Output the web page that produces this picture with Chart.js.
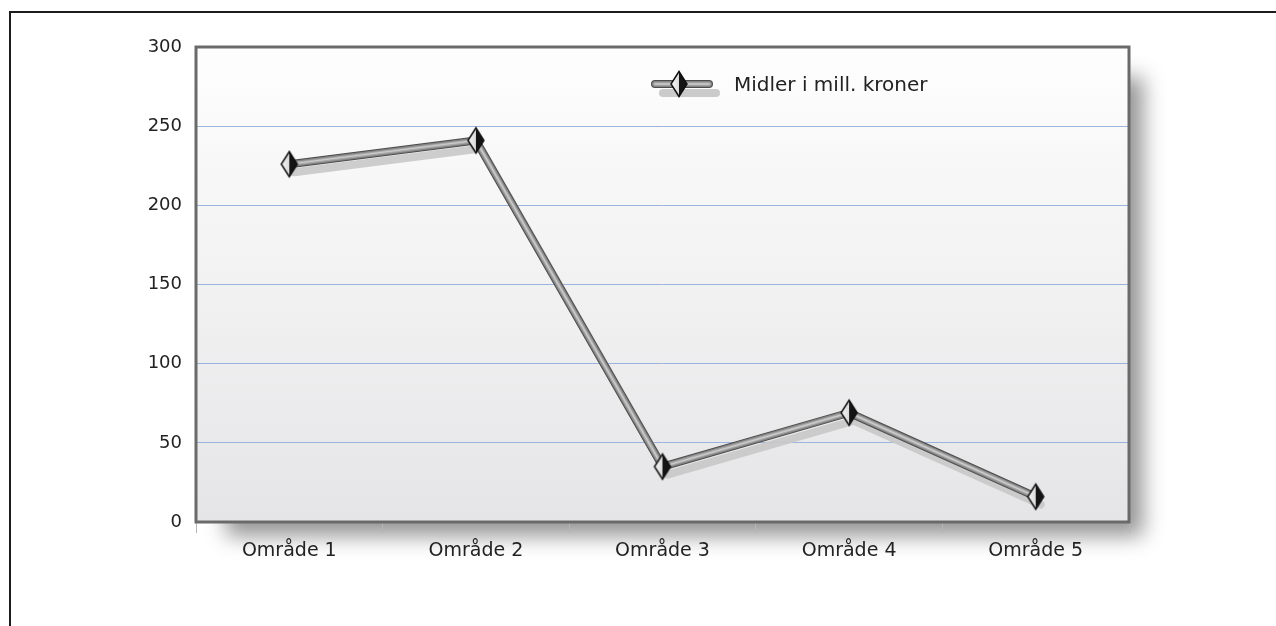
<!DOCTYPE html>
<html>
<head>
<meta charset="utf-8">
<script src="https://cdn.jsdelivr.net/npm/chart.js@4/dist/chart.umd.min.js"></script>
<style>
  html, body { margin: 0; padding: 0; background: #ffffff; }
  #wrap { width: 1276px; height: 626px; position: relative; }
</style>
</head>
<body>
<div id="wrap"><canvas id="chart" width="1276" height="626"></canvas></div>
<script>
// Fund allocation per area (million kroner)
const categories = ['Område 1', 'Område 2', 'Område 3', 'Område 4', 'Område 5'];
const seriesLabel = 'Midler i mill. kroner';
const seriesValues = [226, 241, 35, 69, 16];
const yTicks = [0, 50, 100, 150, 200, 250, 300];

const FONT = '"DejaVu Sans", Verdana, sans-serif';

// Diamond marker: light left half, black right half
function makeDiamond() {
  const c = document.createElement('canvas');
  c.width = 20; c.height = 30;
  const g = c.getContext('2d');
  const cx = 10, cy = 15, hw = 8, hh = 12.5;
  g.beginPath();
  g.moveTo(cx, cy - hh); g.lineTo(cx - hw, cy); g.lineTo(cx, cy + hh); g.closePath();
  const lg = g.createLinearGradient(cx - hw, 0, cx, 0);
  lg.addColorStop(0, '#f8f8f8'); lg.addColorStop(1, '#dadada');
  g.fillStyle = lg; g.fill();
  g.beginPath();
  g.moveTo(cx, cy - hh); g.lineTo(cx + hw, cy); g.lineTo(cx, cy + hh); g.closePath();
  g.fillStyle = '#141414'; g.fill();
  g.beginPath();
  g.moveTo(cx, cy - hh); g.lineTo(cx + hw, cy); g.lineTo(cx, cy + hh); g.lineTo(cx - hw, cy); g.closePath();
  g.lineWidth = 1.5; g.strokeStyle = '#111'; g.lineJoin = 'miter'; g.stroke();
  return c;
}
const diamond = makeDiamond();

// Tube stroke used for the series line and its legend swatch
function strokeTube(ctx, pts) {
  const layers = [['#4c4c4c', 8], ['#858585', 6], ['#a8a8a8', 3.6], ['#cacaca', 1.4]];
  ctx.lineCap = 'round'; ctx.lineJoin = 'round';
  layers.forEach(([col, w]) => {
    ctx.strokeStyle = col; ctx.lineWidth = w;
    ctx.beginPath();
    pts.forEach((p, i) => i ? ctx.lineTo(p.x, p.y) : ctx.moveTo(p.x, p.y));
    ctx.stroke();
  });
}

// Frame, plot background, plot shadow, line shadow, tube line and legend
const decor = {
  id: 'decor',
  beforeDraw(chart) {
    const ctx = chart.ctx, a = chart.chartArea;
    ctx.save();
    ctx.fillStyle = '#ffffff';
    ctx.fillRect(0, 0, chart.width, chart.height);
    // outer frame
    ctx.strokeStyle = '#1c1c1c'; ctx.lineWidth = 2;
    ctx.beginPath();
    ctx.moveTo(10, chart.height); ctx.lineTo(10, 12); ctx.lineTo(chart.width, 12);
    ctx.stroke();
    // soft drop shadow of plot area
    ctx.save();
    ctx.shadowColor = 'rgba(0,0,0,0.42)';
    ctx.shadowBlur = 20;
    ctx.shadowOffsetX = 16; ctx.shadowOffsetY = 16;
    ctx.fillStyle = '#ffffff';
    ctx.fillRect(a.left + 14, a.top + 14, a.right - a.left - 16, a.bottom - a.top - 16);
    ctx.restore();
    // plot background gradient
    const bg = ctx.createLinearGradient(0, a.top, 0, a.bottom);
    bg.addColorStop(0, '#fefefe'); bg.addColorStop(1, '#e5e5e7');
    ctx.fillStyle = bg;
    ctx.fillRect(a.left, a.top, a.right - a.left, a.bottom - a.top);
    ctx.restore();
  },
  beforeDatasetsDraw(chart) {
    const ctx = chart.ctx, a = chart.chartArea;
    ctx.save();
    ctx.strokeStyle = '#6a6a6a'; ctx.lineWidth = 3;
    ctx.strokeRect(a.left, a.top, a.right - a.left, a.bottom - a.top);
    // line shadow, offset down-right
    const pts = chart.getDatasetMeta(0).data;
    ctx.strokeStyle = 'rgba(200,200,200,0.9)';
    ctx.lineWidth = 8; ctx.lineCap = 'round'; ctx.lineJoin = 'round';
    ctx.beginPath();
    pts.forEach((p, i) => { const x = p.x + 5, y = p.y + 8; i ? ctx.lineTo(x, y) : ctx.moveTo(x, y); });
    ctx.stroke();
    // tube body along the dataset's points
    strokeTube(ctx, pts);
    ctx.restore();
  },
  afterDraw(chart) {
    const ctx = chart.ctx;
    ctx.save();
    // legend swatch: tube with shadow and diamond
    ctx.lineCap = 'round';
    ctx.strokeStyle = 'rgba(200,200,200,0.95)'; ctx.lineWidth = 8;
    ctx.beginPath(); ctx.moveTo(663, 93); ctx.lineTo(716, 93); ctx.stroke();
    strokeTube(ctx, [{ x: 655, y: 84 }, { x: 709, y: 84 }]);
    ctx.drawImage(diamond, 679 - 10, 84 - 15);
    ctx.fillStyle = '#222';
    ctx.font = '20px ' + FONT;
    ctx.textBaseline = 'middle';
    ctx.fillText(chart.data.datasets[0].label, 734, 86);
    ctx.restore();
  }
};

new Chart(document.getElementById('chart'), {
  type: 'line',
  data: {
    labels: categories,
    datasets: [
      { label: seriesLabel, data: seriesValues, showLine: false,
        pointStyle: diamond, pointRadius: 10 }
    ]
  },
  options: {
    responsive: false,
    animation: false,
    events: [],
    layout: { padding: { left: 0, top: 47, right: 147, bottom: 0 } },
    plugins: { legend: { display: false }, tooltip: { enabled: false } },
    scales: {
      x: {
        offset: true,
        afterFit(s) { s.height = 104; },
        grid: { offset: true, drawOnChartArea: false, drawTicks: true, tickLength: 11, color: '#b5b5b5', lineWidth: 1 },
        border: { display: false },
        ticks: { color: '#222', font: { family: FONT, size: 19 }, padding: 7, maxRotation: 0 }
      },
      y: {
        min: 0, max: 300,
        afterFit(s) { s.width = 196; },
        afterBuildTicks(s) { s.ticks = yTicks.map(v => ({ value: v })); },
        grid: {
          drawTicks: false,
          color: c => (c.tick && (c.tick.value === 0 || c.tick.value === 300)) ? 'rgba(0,0,0,0)' : '#9cb3dd',
          lineWidth: 1
        },
        border: { display: false },
        ticks: { color: '#222', font: { family: FONT, size: 18 }, padding: 14 }
      }
    }
  },
  plugins: [decor]
});
</script>
</body>
</html>
